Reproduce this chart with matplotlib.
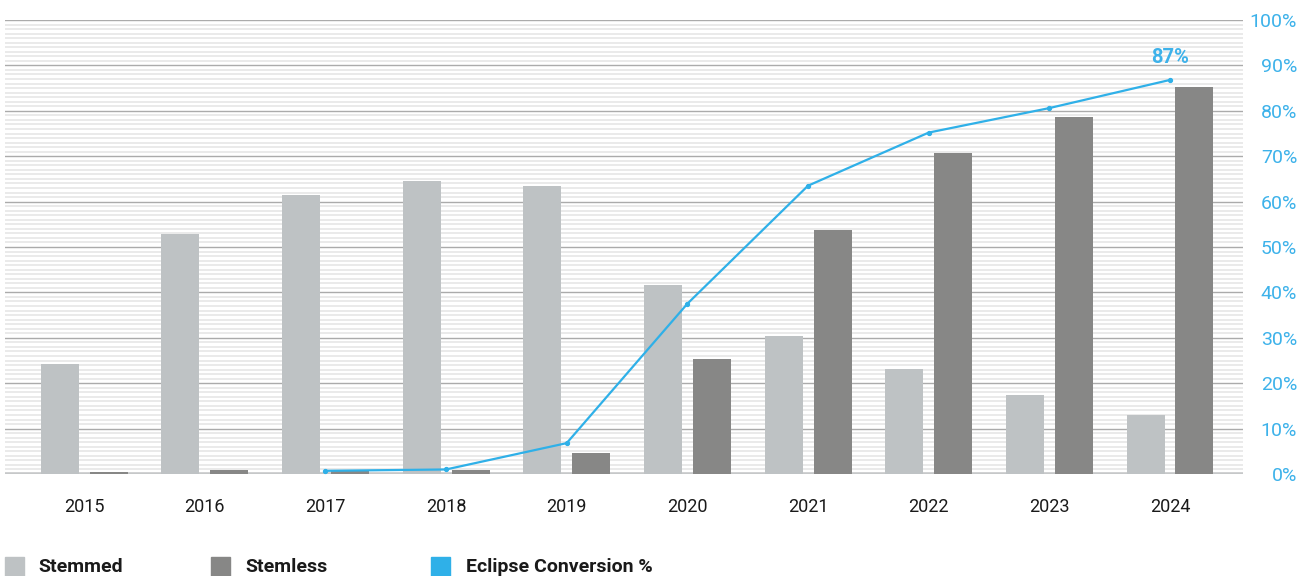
import numpy as np
import matplotlib
matplotlib.use("Agg")
import matplotlib.pyplot as plt
from matplotlib.patches import Rectangle

years = ["2015", "2016", "2017", "2018", "2019", "2020", "2021", "2022", "2023", "2024"]
stemmed = [24.2, 52.8, 61.4, 64.5, 63.4, 41.6, 30.5, 23.2, 17.5, 13.1]
stemless = [0.4, 0.9, 0.6, 0.9, 4.6, 25.3, 53.7, 70.7, 78.6, 85.2]
conversion = [np.nan, np.nan, 0.7, 1.0, 6.8, 37.5, 63.5, 75.2, 80.6, 86.8]
right_ticks = [0, 10, 20, 30, 40, 50, 60, 70, 80, 90, 100]
right_labels = [f"{t}%" for t in right_ticks]
legend_labels = ["Stemmed", "Stemless", "Eclipse Conversion %"]

C_STEMMED = "#bec2c4"
C_STEMLESS = "#878786"
C_LINE = "#2fb0e8"
C_TICK = "#3db2ea"

plt.rcParams['font.family'] = ['Roboto', 'DejaVu Sans']

W, H = 1311, 576
fig = plt.figure(figsize=(W / 100, H / 100), dpi=100)
left, right, top, bottom = 5, 1243, 20, 474
ax = fig.add_axes([left / W, 1 - bottom / H, (right - left) / W, (bottom - top) / H])

x = np.arange(len(years))
bw = 0.315
off = 0.203
ax.bar(x - off, stemmed, width=bw, color=C_STEMMED, zorder=3)
ax.bar(x + off, stemless, width=bw, color=C_STEMLESS, zorder=3)
ax.plot(x, conversion, color=C_LINE, lw=1.6, marker='o', markersize=2.8, zorder=4)

ax.annotate("87%", (x[-1], conversion[-1]), xytext=(0, 9), textcoords='offset points',
            ha='center', va='bottom', color=C_TICK, fontsize=14.5, fontweight='bold')

ax.set_xlim(-0.655, len(years) - 1 + 0.605)
ax.set_ylim(0, 100)

# grid
ax.set_yticks(right_ticks)
ax.set_yticks(np.arange(0, 101, 1), minor=True)
ax.grid(axis='y', which='minor', color='#e8e8e8', lw=1.3, zorder=0)
ax.grid(axis='y', which='major', color='#ababab', lw=1.0, zorder=1)
ax.axhline(0, color='#c6c8c9', lw=2.6, zorder=2)
ax.set_axisbelow(True)

for s in ax.spines.values():
    s.set_visible(False)

ax.yaxis.tick_right()
ax.set_yticklabels(right_labels)
ax.tick_params(axis='y', which='both', length=0, pad=39, labelsize=14, labelcolor=C_TICK)
for lab in ax.get_yticklabels():
    lab.set_horizontalalignment('right')

ax.set_xticks(x)
ax.set_xticklabels(years)
ax.tick_params(axis='x', length=0, pad=17, labelsize=13, labelcolor='#1a1a1a')

# legend (manual, bottom-left)
legend_colors = [C_STEMMED, C_STEMLESS, C_LINE]
sq_x = [5, 211, 431]
tx_x = [38, 245, 466]
for lbl, col, sx, tx in zip(legend_labels, legend_colors, sq_x, tx_x):
    fig.patches.append(Rectangle((sx / W, 1 - 578 / H), 19 / W, 21 / H,
                                 transform=fig.transFigure, color=col, figure=fig))
    fig.text(tx / W, 1 - 572 / H, lbl, ha='left', va='baseline', fontsize=14,
             fontweight='bold', color='#1a1a1a')

fig.savefig("out.png", dpi=100)
